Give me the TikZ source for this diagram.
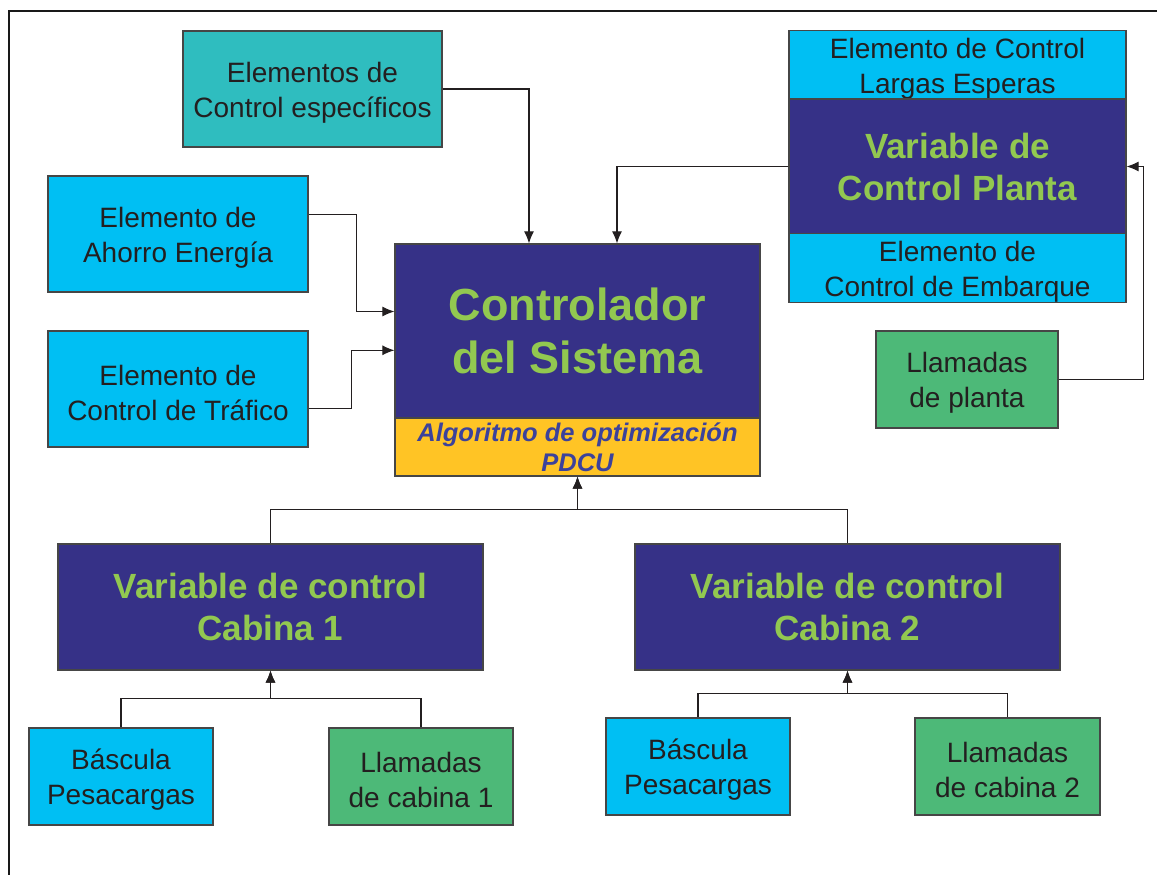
\documentclass[tikz,border=0pt]{standalone}
\usepackage{fontspec}
\setmainfont{Liberation Sans}
\usetikzlibrary{arrows.meta}
\definecolor{tealc}{RGB}{47,189,191}
\definecolor{cyanc}{RGB}{0,191,243}
\definecolor{navyc}{RGB}{54,49,135}
\definecolor{lgreen}{RGB}{146,200,80}
\definecolor{gbox}{RGB}{77,185,120}
\definecolor{yellc}{RGB}{255,196,37}
\definecolor{algtxt}{RGB}{60,66,155}
\definecolor{txt}{RGB}{35,31,32}
\definecolor{bordc}{RGB}{70,70,70}
\newcommand{\tsx}{\rule{0pt}{27.5pt}}
\begin{document}
\begin{tikzpicture}[x=1pt,y=-1pt,
  box/.style={draw=bordc, line width=1.2pt, inner sep=0pt, align=center, text=txt,
    font=\fontsize{28}{35}\selectfont},
  bigbox/.style={box, fill=navyc, text=lgreen, font=\fontsize{35}{42}\selectfont\bfseries},
  conn/.style={draw=txt, line width=1.1pt},
  arr/.style={conn, -{Latex[length=12pt,width=10pt]}},
]
\useasboundingbox (0,0) rectangle (1157,875);
\draw[line width=2.5pt, black!90] (9,11) rectangle (1170,890);

% left column
\node[box, fill=tealc, minimum width=259pt, minimum height=116pt] (ecs) at (312.5,89) {\tsx Elementos de\\Control específicos};
\node[box, fill=cyanc, minimum width=260pt, minimum height=116pt] (ah) at (178,234) {\tsx Elemento de\\Ahorro Energía};
\node[box, fill=cyanc, minimum width=260pt, minimum height=116pt] (tr) at (178,389) {\tsx Elemento de\\Control de Tráfico};

% controller
\node[box, fill=navyc, text=lgreen, font=\fontsize{45}{53}\selectfont\bfseries,
  minimum width=365pt, minimum height=174pt] (ctrl) at (577.5,331) {Controlador\\del Sistema};
\node[box, fill=yellc, text=algtxt, font=\fontsize{25.5}{30}\selectfont\bfseries\itshape,
  minimum width=365pt, minimum height=58pt] (alg) at (577.5,447) {Algoritmo de optimización\\PDCU};

% right stack
\node[box, fill=cyanc, minimum width=337pt, minimum height=68pt] (lce) at (957.5,65) {\tsx Elemento de Control\\Largas Esperas};
\node[bigbox, minimum width=337pt, minimum height=135pt] (vp) at (957.5,166.5) {Variable de\\Control Planta};
\node[box, fill=cyanc, minimum width=337pt, minimum height=68pt] (emb) at (957.5,268) {\tsx Elemento de\\Control de Embarque};
\node[box, fill=gbox, minimum width=182pt, minimum height=97pt] (lp) at (967,379.5) {\tsx Llamadas\\de planta};

% cabins
\node[bigbox, minimum width=425pt, minimum height=126pt] (cab1) at (270.5,607) {Variable de control\\Cabina 1};
\node[bigbox, minimum width=425pt, minimum height=126pt] (cab2) at (847.5,607) {Variable de control\\Cabina 2};

\node[box, fill=cyanc, minimum width=184pt, minimum height=97pt] (bas1) at (121,776.5) {\tsx Báscula\\Pesacargas};
\node[box, fill=gbox, minimum width=184pt, minimum height=97pt] (ll1) at (421,776.5) {\tsx Llamadas\\de cabina 1};
\node[box, fill=cyanc, minimum width=184pt, minimum height=97pt] (bas2) at (698,766.5) {\tsx Báscula\\Pesacargas};
\node[box, fill=gbox, minimum width=185pt, minimum height=97pt] (ll2) at (1007.5,766.5) {\tsx Llamadas\\de cabina 2};

% connectors
\draw[arr] (ecs.east) -| ([xshift=-48.5pt]ctrl.north);
\draw[arr] (vp.west) -| ([xshift=39.5pt]ctrl.north);
\draw[arr] ([yshift=19.5pt]ah.east) -- ++(48,0) |- ([yshift=19.5pt]ctrl.west);
\draw[arr] ([yshift=-19.3pt]tr.east) -- ++(43,0) |- ([yshift=-19.3pt]ctrl.west);
\draw[arr] (lp.east) -- ++(85,0) |- (vp.east);

\draw[arr] (cab1.north) -- ++(0,-34) -| (alg.south);
\draw[arr] (cab2.north) -- ++(0,-34) -| (alg.south);

\draw[arr] (bas1.north) -- ++(0,-29) -| (cab1.south);
\draw[arr] (ll1.north) -- ++(0,-29) -| (cab1.south);
\draw[arr] (bas2.north) -- ++(0,-24) -| (cab2.south);
\draw[arr] (ll2.north) -- ++(0,-24) -| (cab2.south);
\end{tikzpicture}
\end{document}
